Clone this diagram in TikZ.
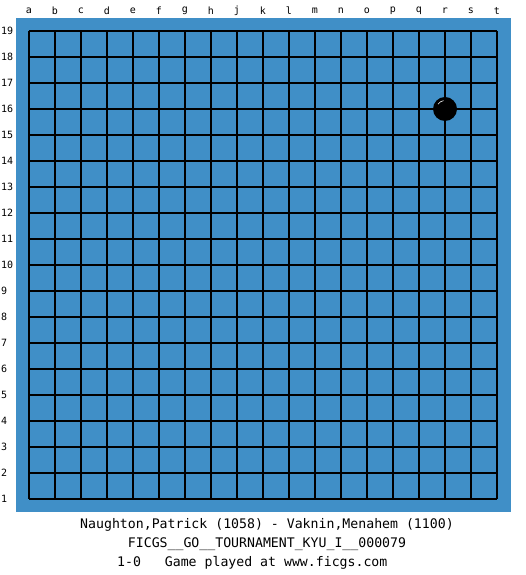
\documentclass[tikz,border=0pt]{standalone}
\usepackage{fontspec}
\setmonofont{DejaVu Sans Mono}
\usepackage{xcolor}
\usepackage{tikz}
\definecolor{boardblue}{RGB}{64,143,199}

\begin{document}
\begin{tikzpicture}[x=1pt,y=1pt,
		coordlabel/.style={font=\ttfamily\fontsize{10}{11}\selectfont,inner sep=0pt},
		infoline/.style={font=\ttfamily\fontsize{13.2}{14}\selectfont,inner sep=0pt}]
		\useasboundingbox (0,0) rectangle (525,575);
		% board
		\fill[boardblue] (16,63) rectangle (511,557);
		\foreach \k in {0,...,18}{
			\draw[line width=1.1pt] (29+26*\k,76) -- (29+26*\k,544);
			\draw[line width=1.1pt] (29,76+26*\k) -- (497,76+26*\k);
		}
		% column letters and row numbers
		\foreach \l [count=\i from 0] in {a,b,c,d,e,f,g,h,j,k,l,m,n,o,p,q,r,s,t}
			\node[coordlabel] (col\l) at (29+26*\i,564) {\l};
		\foreach \r in {1,...,19}
			\node[coordlabel,anchor=west] (row\r) at (1,50+26*\r) {\r};
		% stone on r16
		\node[circle,fill=black,minimum size=24pt,inner sep=0pt] (stone) at (445,466) {};
		\draw[white,line width=0.6pt] ([shift={(145:8.5)}]stone.center) arc (145:100:8.5);
		%
		\node[infoline] (players) at (267,50) {Naughton,Patrick (1058) - Vaknin,Menahem (1100)};
		\node[infoline] (event) at (267,31) {FICGS\_\_GO\_\_TOURNAMENT\_KYU\_I\_\_000079};
		\node[infoline,anchor=west] (result) at (117,12) {1-0\ \ \ Game played at www.ficgs.com};
	\end{tikzpicture}
\end{document}
